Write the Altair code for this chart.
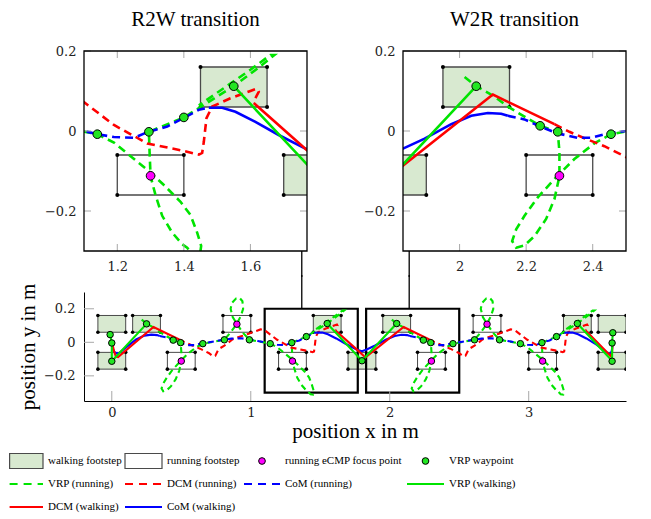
import altair as alt
import pandas as pd

# ---------------- footsteps (m) ----------------
walk_x0 = [-0.1, -0.1, 0.15, 1.45, 1.7, 1.95, 3.25, 3.5, 3.5]
walk_x1 = [0.1, 0.1, 0.35, 1.65, 1.9, 2.15, 3.45, 3.7, 3.7]
walk_y0 = [0.06, -0.16, 0.06, 0.06, -0.16, 0.06, 0.06, 0.06, -0.16]
walk_y1 = [0.16, -0.06, 0.16, 0.16, -0.06, 0.16, 0.16, 0.16, -0.06]
run_x0 = [0.4, 0.8, 1.2, 2.2, 2.6, 3.0]
run_x1 = [0.6, 1.0, 1.4, 2.4, 2.8, 3.2]
run_y0 = [-0.16, 0.06, -0.16, -0.16, 0.06, -0.16]
run_y1 = [-0.06, 0.16, -0.06, -0.06, 0.16, -0.06]

# running eCMP focus points
ecmp_x = [0.5, 0.9, 1.3, 2.3, 2.7, 3.1]
ecmp_y = [-0.112, 0.108, -0.112, -0.112, 0.108, -0.112]

# VRP waypoints
wp_x = [-0.012, 0.0, 0.0, 0.25, 0.442, 0.495, 0.655, 0.81, 0.99, 1.14, 1.295, 1.4, 1.55,
        1.8, 2.05, 2.242, 2.295, 2.455, 2.61, 2.79, 2.94, 3.095, 3.2, 3.35, 3.605, 3.6, 3.6]
wp_y = [0.046, -0.004, -0.113, 0.11, 0.013, -0.002, -0.008, 0.015, 0.015, -0.008, -0.002, 0.034, 0.112,
        -0.11, 0.112, 0.013, -0.002, -0.008, 0.015, 0.015, -0.008, -0.002, 0.034, 0.112, 0.057, -0.004, -0.113]

# ---------------- walking trajectories ----------------
vrp_walk1_x = [-0.012, 0.0, 0.0, 0.25]
vrp_walk1_y = [0.046, -0.004, -0.113, 0.11]
vrp_walk2_x = [1.55, 1.8, 2.05]
vrp_walk2_y = [0.112, -0.11, 0.112]
vrp_walk3_x = [3.35, 3.6, 3.6, 3.605]
vrp_walk3_y = [0.112, -0.11, -0.004, 0.057]

dcm_walk1_x = [0.005, 0.015, 0.03, 0.045, 0.3, 0.485]
dcm_walk1_y = [-0.01, -0.05, -0.085, -0.088, 0.091, 0.017]
dcm_walk2_x = [1.61, 1.77, 1.825, 2.1, 2.285]
dcm_walk2_y = [0.07, -0.048, -0.09, 0.091, 0.017]
dcm_walk3_x = [3.41, 3.57, 3.59, 3.6, 3.603]
dcm_walk3_y = [0.07, -0.065, -0.082, -0.06, -0.015]

com_walk1_x = [0.0, 0.004, 0.018, 0.035, 0.055, 0.1, 0.175, 0.235, 0.285, 0.325, 0.345]
com_walk1_y = [0.0, -0.03, -0.058, -0.066, -0.062, -0.032, 0.017, 0.04, 0.046, 0.043, 0.038]
com_walk2_x = [1.475, 1.515, 1.555, 1.615, 1.685, 1.765, 1.8, 1.83, 1.895, 1.975, 2.035, 2.085, 2.125, 2.145]
com_walk2_y = [0.058, 0.058, 0.048, 0.023, -0.01, -0.044, -0.053, -0.044, -0.019, 0.017, 0.038, 0.045, 0.043, 0.038]
com_walk3_x = [3.275, 3.315, 3.355, 3.415, 3.485, 3.54, 3.57, 3.588, 3.598, 3.602]
com_walk3_y = [0.058, 0.058, 0.048, 0.023, -0.012, -0.045, -0.066, -0.07, -0.05, -0.02]

# ---------------- running trajectories ----------------
vrp_run1_x = [0.215, 0.25, 0.305, 0.345, 0.395, 0.442, 0.495, 0.5, 0.5, 0.485, 0.46, 0.425, 0.395, 0.37,
              0.358, 0.37, 0.395, 0.435, 0.485, 0.545, 0.605, 0.655, 0.735, 0.81, 0.86, 0.9, 0.93, 0.945,
              0.94, 0.92, 0.895, 0.865, 0.855, 0.87, 0.9, 0.94, 0.99, 1.065, 1.14, 1.19, 1.24, 1.29, 1.34,
              1.39, 1.42, 1.44, 1.452, 1.448, 1.43, 1.41, 1.395, 1.365, 1.335, 1.315, 1.3, 1.297, 1.295,
              1.4, 1.55, 1.63, 1.672, 1.66, 1.6, 1.52, 1.445]
vrp_run1_y = [0.135, 0.112, 0.086, 0.061, 0.036, 0.013, -0.002, -0.052, -0.113, -0.17, -0.22, -0.263, -0.286, -0.292,
              -0.275, -0.246, -0.212, -0.166, -0.12, -0.07, -0.031, -0.008, 0.004, 0.015, 0.065, 0.11, 0.16, 0.2,
              0.245, 0.265, 0.262, 0.235, 0.2, 0.15, 0.11, 0.06, 0.015, 0.004, -0.008, -0.029, -0.063, -0.097, -0.135,
              -0.177, -0.21, -0.254, -0.287, -0.312, -0.31, -0.292, -0.283, -0.254, -0.212, -0.161, -0.113, -0.052, -0.002,
              0.034, 0.112, 0.162, 0.19, 0.19, 0.153, 0.107, 0.064]
vrp_run2_x = [2.015, 2.05, 2.105, 2.145, 2.195, 2.242, 2.295, 2.3, 2.3, 2.285, 2.26, 2.225, 2.195, 2.17,
              2.158, 2.17, 2.195, 2.235, 2.285, 2.345, 2.405, 2.455, 2.535, 2.61, 2.66, 2.7, 2.73, 2.745,
              2.74, 2.72, 2.695, 2.665, 2.655, 2.67, 2.7, 2.74, 2.79, 2.865, 2.94, 2.99, 3.04, 3.09, 3.14,
              3.19, 3.22, 3.24, 3.252, 3.248, 3.23, 3.21, 3.195, 3.165, 3.135, 3.115, 3.1, 3.097, 3.095,
              3.2, 3.35, 3.43, 3.472, 3.46, 3.4, 3.32, 3.245]
vrp_run2_y = [0.135, 0.112, 0.086, 0.061, 0.036, 0.013, -0.002, -0.052, -0.113, -0.17, -0.22, -0.263, -0.286, -0.292,
              -0.275, -0.246, -0.212, -0.166, -0.12, -0.07, -0.031, -0.008, 0.004, 0.015, 0.065, 0.11, 0.16, 0.2,
              0.245, 0.265, 0.262, 0.235, 0.2, 0.15, 0.11, 0.06, 0.015, 0.004, -0.008, -0.029, -0.063, -0.097, -0.135,
              -0.177, -0.21, -0.254, -0.287, -0.312, -0.31, -0.292, -0.283, -0.254, -0.212, -0.161, -0.113, -0.052, -0.002,
              0.034, 0.112, 0.162, 0.19, 0.19, 0.153, 0.107, 0.064]

dcm_run1_x = [0.485, 0.53, 0.575, 0.635, 0.7, 0.73, 0.745, 0.76, 0.77, 0.81, 0.87, 0.92, 0.98, 1.04, 1.07,
              1.09, 1.1, 1.19, 1.29, 1.39, 1.445, 1.455, 1.46, 1.468, 1.485, 1.54, 1.6, 1.62, 1.625, 1.615, 1.61]
dcm_run1_y = [0.017, -0.002, -0.018, -0.038, -0.065, -0.085, -0.08, -0.055, -0.04, -0.02, 0.018, 0.033, 0.05, 0.068, 0.077,
              0.076, 0.072, 0.015, -0.031, -0.048, -0.059, -0.055, -0.027, 0.032, 0.061, 0.082, 0.1, 0.106, 0.098, 0.082, 0.07]
dcm_run2_x = [2.285, 2.33, 2.375, 2.435, 2.5, 2.53, 2.545, 2.56, 2.57, 2.61, 2.67, 2.72, 2.78, 2.84, 2.87,
              2.89, 2.9, 2.99, 3.09, 3.19, 3.245, 3.255, 3.26, 3.268, 3.285, 3.34, 3.4, 3.42, 3.425, 3.415, 3.41]
dcm_run2_y = [0.017, -0.002, -0.018, -0.038, -0.065, -0.085, -0.08, -0.055, -0.04, -0.02, 0.018, 0.033, 0.05, 0.068, 0.077,
              0.076, 0.072, 0.015, -0.031, -0.048, -0.059, -0.055, -0.027, 0.032, 0.061, 0.082, 0.1, 0.106, 0.098, 0.082, 0.07]

com_run1_x = [0.345, 0.395, 0.445, 0.495, 0.555, 0.595, 0.645, 0.7, 0.78, 0.86, 0.93, 0.99, 1.05, 1.1,
              1.14, 1.19, 1.25, 1.29, 1.35, 1.4, 1.445, 1.475]
com_run1_y = [0.038, 0.029, 0.01, -0.006, -0.017, -0.017, -0.006, 0.0, 0.012, 0.022, 0.024, 0.018, 0.008, 0.0,
              -0.008, -0.015, -0.017, -0.003, 0.011, 0.033, 0.053, 0.058]
com_run2_x = [2.145, 2.195, 2.245, 2.295, 2.355, 2.395, 2.445, 2.5, 2.58, 2.66, 2.73, 2.79, 2.85, 2.9,
              2.94, 2.99, 3.05, 3.09, 3.15, 3.2, 3.245, 3.275]
com_run2_y = [0.038, 0.029, 0.01, -0.006, -0.017, -0.017, -0.006, 0.0, 0.012, 0.022, 0.024, 0.018, 0.008, 0.0,
              -0.008, -0.015, -0.017, -0.003, 0.011, 0.033, 0.053, 0.058]

# view windows of the two magnified panels (also drawn as boxes in the overview)
zoom_x0 = [1.1, 1.83]
zoom_x1 = [1.77, 2.5]
zoom_y0 = [-0.3, -0.3]
zoom_y1 = [0.2, 0.2]
conn_x = [1.367, 2.14]   # connector positions (overview x)

GREEN = "#00e400"
GREEN_PT = "#22e622"
RED = "#ff0000"
BLUE = "#0000ff"
MAGENTA = "#ff00ff"
FOOT_FILL = "#d8e9d0"
FOOT_EDGE = "#4a4a4a"

# ---------------- tables ----------------
walk_df = pd.DataFrame({"x0": walk_x0, "x1": walk_x1, "y0": walk_y0, "y1": walk_y1})
run_df = pd.DataFrame({"x0": run_x0, "x1": run_x1, "y0": run_y0, "y1": run_y1})
corners = []
for xa, xb, ya, yb in zip(walk_x0 + run_x0, walk_x1 + run_x1, walk_y0 + run_y0, walk_y1 + run_y1):
    for cx in (xa, xb):
        for cy in (ya, yb):
            corners.append({"x": cx, "y": cy})
corner_df = pd.DataFrame(corners)
wp_df = pd.DataFrame({"x": wp_x, "y": wp_y})
ecmp_df = pd.DataFrame({"x": ecmp_x, "y": ecmp_y})


def path(series, seg, xs, ys):
    return pd.DataFrame({"x": xs, "y": ys, "i": list(range(len(xs))), "series": series, "seg": seg})


paths = pd.concat([
    path("vrp_run", "a", vrp_run1_x, vrp_run1_y), path("vrp_run", "b", vrp_run2_x, vrp_run2_y),
    path("dcm_run", "a", dcm_run1_x, dcm_run1_y), path("dcm_run", "b", dcm_run2_x, dcm_run2_y),
    path("com_run", "a", com_run1_x, com_run1_y), path("com_run", "b", com_run2_x, com_run2_y),
    path("vrp_walk", "a", vrp_walk1_x, vrp_walk1_y), path("vrp_walk", "b", vrp_walk2_x, vrp_walk2_y),
    path("vrp_walk", "c", vrp_walk3_x, vrp_walk3_y),
    path("dcm_walk", "a", dcm_walk1_x, dcm_walk1_y), path("dcm_walk", "b", dcm_walk2_x, dcm_walk2_y),
    path("dcm_walk", "c", dcm_walk3_x, dcm_walk3_y),
    path("com_walk", "a", com_walk1_x, com_walk1_y), path("com_walk", "b", com_walk2_x, com_walk2_y),
    path("com_walk", "c", com_walk3_x, com_walk3_y),
], ignore_index=True)

one = pd.DataFrame({"a": [0]})

TOP_W, TOP_H = 223, 200
BOT_W, BOT_H = 542, 109
HSPACE = BOT_W - 2 * TOP_W
GAP = 43          # page gap between magnified panels and overview
OVER = 17         # part of the connector drawn above the overview plot area
VSPACE = -4
BOT_XDOM = [-0.2, 3.7]
BOT_YDOM = [-0.35, 0.3]
SERIF = "Liberation Serif"


def bottom_px(v):
    return (v - BOT_XDOM[0]) / (BOT_XDOM[1] - BOT_XDOM[0]) * BOT_W


def make_panel(xdom, ydom, w, h, xt, yt, top, title=None, conn_px=None):
    xs = alt.Scale(domain=xdom, nice=False, zero=False)
    ys = alt.Scale(domain=ydom, nice=False, zero=False)
    if top:
        xax = alt.Axis(values=xt, format="~g", ticks=False, domain=False, grid=False,
                       labelPadding=9, title=None)
        yax = alt.Axis(values=yt, format="~g", ticks=False, domain=False, grid=False,
                       labelPadding=8, title=None)
        lw, psize, dsize, dash, fw, tl_len = 2.6, 75, 16, [8, 5], 1.3, 7
    else:
        xax = alt.Axis(values=xt, format="~g", ticks=False, domain=True, domainColor="black",
                       domainWidth=1, grid=False, labelPadding=5, title="position x in m", titlePadding=1)
        yax = alt.Axis(values=yt, format="~g", ticks=False, domain=True, domainColor="black",
                       domainWidth=1, grid=False, labelPadding=9, title="position y in m", titlePadding=5)
        lw, psize, dsize, dash, fw, tl_len = 2.1, 42, 13, [6, 4], 1.0, 10

    def X(f):
        return alt.X(f, type="quantitative", scale=xs, axis=xax)

    def Y(f):
        return alt.Y(f, type="quantitative", scale=ys, axis=yax)

    L = []
    L.append(alt.Chart(walk_df).mark_rect(fill=FOOT_FILL, stroke=FOOT_EDGE, strokeWidth=fw, clip=True)
             .encode(x=X("x0"), x2="x1", y=Y("y0"), y2="y1"))
    L.append(alt.Chart(run_df).mark_rect(fill="white", fillOpacity=0, stroke=FOOT_EDGE, strokeWidth=fw, clip=True)
             .encode(x=X("x0"), x2="x1", y=Y("y0"), y2="y1"))
    L.append(alt.Chart(corner_df).mark_circle(color="black", size=dsize, opacity=1, clip=True)
             .encode(x=X("x"), y=Y("y")))
    if not top:
        zdf = pd.DataFrame({"x0": zoom_x0, "x1": zoom_x1, "y0": zoom_y0, "y1": zoom_y1})
        L.append(alt.Chart(zdf).mark_rect(fillOpacity=0, stroke="black", strokeWidth=2.2)
                 .encode(x=X("x0"), x2="x1", y=Y("y0"), y2="y1"))
        cdf = pd.DataFrame({"x": conn_x, "y": [zoom_y1[0]] * len(conn_x)})
        L.append(alt.Chart(cdf).mark_rule(color="black", strokeWidth=1.3)
                 .encode(x=X("x"), y=Y("y"), y2=alt.value(-OVER)))

    def line(series, color, dashed):
        kw = dict(color=color, strokeWidth=lw, clip=True)
        if dashed:
            kw["strokeDash"] = dash
        return (alt.Chart(paths[paths.series == series]).mark_line(**kw)
                .encode(x=X("x"), y=Y("y"), detail="seg:N", order="i:Q"))

    L += [line("vrp_run", GREEN, True), line("dcm_run", RED, True), line("com_run", BLUE, True),
          line("com_walk", BLUE, False), line("dcm_walk", RED, False), line("vrp_walk", GREEN, False)]
    L.append(alt.Chart(wp_df).mark_point(shape="circle", filled=True, fill=GREEN_PT, stroke="black",
                                         strokeWidth=1, size=psize, opacity=1, clip=True)
             .encode(x=X("x"), y=Y("y")))
    L.append(alt.Chart(ecmp_df).mark_point(shape="circle", filled=True, fill=MAGENTA, stroke="black",
                                           strokeWidth=1, size=psize, opacity=1, clip=True)
             .encode(x=X("x"), y=Y("y")))
    # inward tick marks
    tx = pd.DataFrame({"v": xt})
    ty = pd.DataFrame({"v": yt})
    TC = "#a8a8a8"
    L.append(alt.Chart(tx).mark_rule(color=TC, strokeWidth=1)
             .encode(x=X("v"), y=alt.value(h), y2=alt.value(h - tl_len)))
    L.append(alt.Chart(ty).mark_rule(color=TC, strokeWidth=1)
             .encode(y=Y("v"), x=alt.value(0), x2=alt.value(tl_len)))
    if top:
        L.append(alt.Chart(tx).mark_rule(color=TC, strokeWidth=1)
                 .encode(x=X("v"), y=alt.value(0), y2=alt.value(tl_len)))
        L.append(alt.Chart(ty).mark_rule(color=TC, strokeWidth=1)
                 .encode(y=Y("v"), x=alt.value(w - tl_len), x2=alt.value(w)))
        L.append(alt.Chart(one).mark_rect(fillOpacity=0, stroke="black", strokeWidth=1.3)
                 .encode(x=alt.value(0), x2=alt.value(w), y=alt.value(0), y2=alt.value(h)))
        L.append(alt.Chart(one).mark_rule(color="black", strokeWidth=1.3)
                 .encode(x=alt.value(conn_px), y=alt.value(h), y2=alt.value(h + GAP - OVER)))
    props = dict(width=w, height=h)
    if title:
        props["title"] = alt.TitleParams(title, font=SERIF, fontSize=21, fontWeight="normal",
                                         anchor="middle", frame="group", offset=-2, baseline="alphabetic",
                                         color="black")
    return alt.layer(*L).properties(**props)


tl = make_panel([zoom_x0[0], zoom_x1[0]], [zoom_y0[0], zoom_y1[0]], TOP_W, TOP_H, [1.2, 1.4, 1.6],
                [-0.2, 0, 0.2], True, "R2W transition", conn_px=bottom_px(conn_x[0]))
tr = make_panel([zoom_x0[1], zoom_x1[1]], [zoom_y0[1], zoom_y1[1]], TOP_W, TOP_H, [2, 2.2, 2.4],
                [-0.2, 0, 0.2], True, "W2R transition", conn_px=bottom_px(conn_x[1]) - TOP_W - HSPACE)
bottom = make_panel(BOT_XDOM, BOT_YDOM, BOT_W, BOT_H, [0, 1, 2, 3], [-0.2, 0, 0.2], False)

# ---------------- legend ----------------
leg_labels = ["walking footstep", "running footstep", "running eCMP focus point", "VRP waypoint",
              "VRP (running)", "DCM (running)", "CoM (running)", "VRP (walking)",
              "DCM (walking)", "CoM (walking)"]
leg_kind = ["rect_walk", "rect_run", "dot", "dot", "dash", "dash", "dash", "solid", "solid", "solid"]
leg_color = [FOOT_FILL, "white", MAGENTA, GREEN_PT, GREEN, RED, BLUE, GREEN, RED, BLUE]
leg_row = [0, 0, 0, 0, 1, 1, 1, 1, 2, 2]
leg_col = [0, 1, 2, 3, 0, 1, 2, 3, 0, 1]

ORIGIN_X, ORIGIN_Y = 83, 442      # page position of the legend area origin
col_sym0 = [8.6, 124, 243, 406]
col_sym1 = [42, 161, 279, 443]
col_text = [47, 166, 284, 448]
row_y = [462, 485, 508]
LEG_H = 75

leg = pd.DataFrame({
    "label": leg_labels, "kind": leg_kind, "color": leg_color,
    "x0": [col_sym0[c] - ORIGIN_X for c in leg_col],
    "x1": [col_sym1[c] - ORIGIN_X for c in leg_col],
    "xm": [(col_sym0[c] + col_sym1[c]) / 2 - ORIGIN_X for c in leg_col],
    "xt": [col_text[c] - ORIGIN_X for c in leg_col],
    "y": [row_y[r] - ORIGIN_Y for r in leg_row],
    "ya": [row_y[r] - 7.5 - ORIGIN_Y for r in leg_row],
    "yb": [row_y[r] + 7.5 - ORIGIN_Y for r in leg_row],
})
lxs = alt.Scale(domain=[0, BOT_W], nice=False, zero=False)
lys = alt.Scale(domain=[0, LEG_H], nice=False, zero=False, reverse=True)


def LX(f):
    return alt.X(f, type="quantitative", scale=lxs, axis=None)


def LY(f):
    return alt.Y(f, type="quantitative", scale=lys, axis=None)


lbase = alt.Chart(leg)
legend = alt.layer(
    lbase.transform_filter("indexof(datum.kind, 'rect') == 0").mark_rect(stroke=FOOT_EDGE, strokeWidth=1.2)
    .encode(x=LX("x0"), x2="x1", y=LY("ya"), y2="yb", fill=alt.Color("color:N", scale=None)),
    lbase.transform_filter("datum.kind == 'dot'").mark_point(shape="circle", filled=True, stroke="black",
                                                             strokeWidth=1, size=45, opacity=1)
    .encode(x=LX("xm"), y=LY("y"), fill=alt.Color("color:N", scale=None)),
    lbase.transform_filter("datum.kind == 'dash'").mark_rule(strokeWidth=2, strokeDash=[8, 6])
    .encode(x=LX("x0"), x2="x1", y=LY("y"), color=alt.Color("color:N", scale=None)),
    lbase.transform_filter("datum.kind == 'solid'").mark_rule(strokeWidth=2)
    .encode(x=LX("x0"), x2="x1", y=LY("y"), color=alt.Color("color:N", scale=None)),
    lbase.mark_text(align="left", baseline="middle", font=SERIF, fontSize=11, color="black")
    .encode(x=LX("xt"), y=LY("y"), text="label:N"),
).properties(width=BOT_W, height=LEG_H)

top_row = alt.hconcat(tl, tr, spacing=HSPACE, bounds="flush")
chart = (alt.vconcat(top_row, bottom, legend, spacing=VSPACE)
         .properties(padding={"left": 0, "top": 1, "right": 0, "bottom": 0})
         .configure_view(stroke=None)
         .configure_axis(labelFont="DejaVu Serif", labelFontSize=13, labelColor="#222222",
                         titleFont=SERIF, titleFontSize=21, titleFontWeight="normal",
                         titleColor="black"))

chart.save("out.html", embed_options={"renderer": "svg", "actions": False})
